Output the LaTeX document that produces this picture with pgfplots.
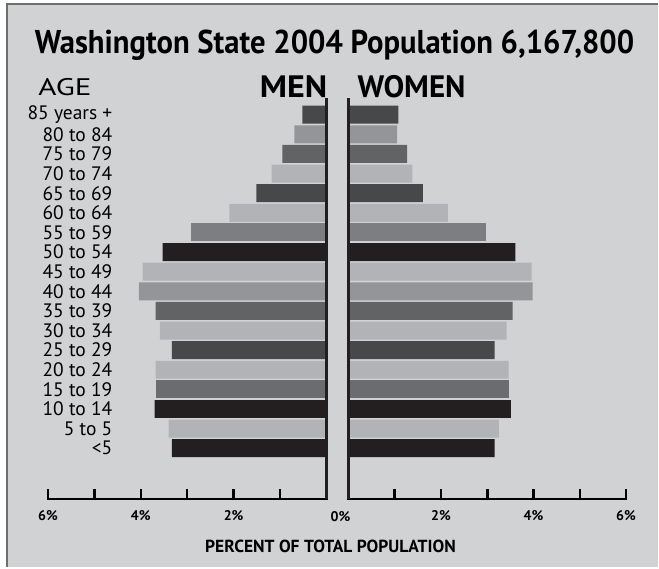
\documentclass[border=0pt]{standalone}
\usepackage{fontspec}
\setmainfont{PT Sans}
\usepackage{pgfplots}
\pgfplotsset{compat=1.18}
\definecolor{bg}{HTML}{D1D2D4}
\definecolor{frame}{HTML}{6D6E70}
\definecolor{cA}{HTML}{231F20}
\definecolor{cB}{HTML}{47484A}
\definecolor{cC}{HTML}{626365}
\definecolor{cD}{HTML}{6B6C6F}
\definecolor{cE}{HTML}{7D7E81}
\definecolor{cF}{HTML}{949598}
\definecolor{cG}{HTML}{B2B3B6}
\pgfplotsset{
  pb/.style={xbar, bar width=18pt, bar shift=0pt, draw=none, fill=#1},
  pyr/.style={
    scale only axis, width=#1, height=402pt,
    ymin=-2.6, ymax=17.86, enlargelimits=false,
    axis x line*=bottom, axis y line*=left,
    x axis line style={-, line width=2.5pt, line cap=rect},
    y axis line style={draw=none},
    ytick style={draw=none},
    xtick style={black, line width=2.5pt},
    tick align=inside, major tick length=10pt,
    xticklabel style={font=\fontsize{14}{14}\selectfont\bfseries, yshift=-8pt},
    clip=false,
  }
}
\begin{document}
\begin{tikzpicture}[x=1pt,y=1pt]
\fill[white] (0,0) rectangle (659,568);
\fill[bg] (7,0) rectangle (659,564);
\draw[frame, line width=2pt] (7,0) -- (7,564) -- (659,564);
\node[font=\fontsize{33}{33}\selectfont\bfseries] at (335,523) {\scalebox{0.93}[1]{Washington State 2004 Population 6,167,800}};
\node[font=\fontsize{24}{24}\selectfont] at (65,481) {\scalebox{1.3}[1]{AGE}};
\node[font=\fontsize{31}{31}\selectfont\bfseries, anchor=east, inner sep=0pt] at (328,481) {\scalebox{1.1}[1]{MEN}};
\node[font=\fontsize{31}{31}\selectfont\bfseries, anchor=west, inner sep=0pt] at (358,481) {WOMEN};
\node[font=\fontsize{14}{14}\selectfont\bfseries] at (341,51) {0\%};
\node[font=\fontsize{17.5}{17.5}\selectfont\bfseries] at (331,21) {PERCENT OF TOTAL POPULATION};
% MEN
\begin{axis}[pyr=279pt, at={(48pt,68pt)}, anchor=south west,
  xmin=-6, xmax=0,
  xtick={-6,-5,-4,-3,-2,-1,0}, xticklabels={6\%,,4\%,,2\%,,},
  ytick={0,1,...,17},
  yticklabels={<5,5 to 5,10 to 14,15 to 19,20 to 24,25 to 29,30 to 34,35 to 39,40 to 44,45 to 49,50 to 54,55 to 59,60 to 64,65 to 69,70 to 74,75 to 79,80 to 84,85 years +},
  yticklabel style={font=\fontsize{19.5}{19.5}\selectfont, anchor=east, xshift=68pt},
]
\addplot[pb=cA] coordinates {(-3.53,10) (-3.70,2) (-3.33,0)};
\addplot[pb=cB] coordinates {(-0.52,17) (-1.51,13) (-3.33,5)};
\addplot[pb=cC] coordinates {(-0.95,15) (-3.68,7)};
\addplot[pb=cD] coordinates {(-3.68,3)};
\addplot[pb=cE] coordinates {(-2.92,11)};
\addplot[pb=cF] coordinates {(-0.69,16) (-4.04,8)};
\addplot[pb=cG] coordinates {(-1.18,14) (-2.09,12) (-3.96,9) (-3.59,6) (-3.68,4) (-3.40,1)};
\draw[cA, line width=2.5pt] (axis cs:0,-2.6) -- (axis cs:0,17.86);
\end{axis}
% WOMEN
\begin{axis}[pyr=278pt, at={(349pt,68pt)}, anchor=south west,
  xmin=0, xmax=6,
  xtick={0,1,2,3,4,5,6}, xticklabels={,,2\%,,4\%,,6\%},
  ytick=\empty,
]
\addplot[pb=cA] coordinates {(3.61,10) (3.51,2) (3.16,0)};
\addplot[pb=cB] coordinates {(1.08,17) (1.61,13) (3.16,5)};
\addplot[pb=cC] coordinates {(1.27,15) (3.55,7)};
\addplot[pb=cD] coordinates {(3.48,3)};
\addplot[pb=cE] coordinates {(2.97,11)};
\addplot[pb=cF] coordinates {(1.05,16) (3.98,8)};
\addplot[pb=cG] coordinates {(1.38,14) (2.15,12) (3.96,9) (3.42,6) (3.46,4) (3.25,1)};
\draw[cA, line width=2.5pt] (axis cs:0,-2.6) -- (axis cs:0,17.86);
\end{axis}
\end{tikzpicture}
\end{document}
